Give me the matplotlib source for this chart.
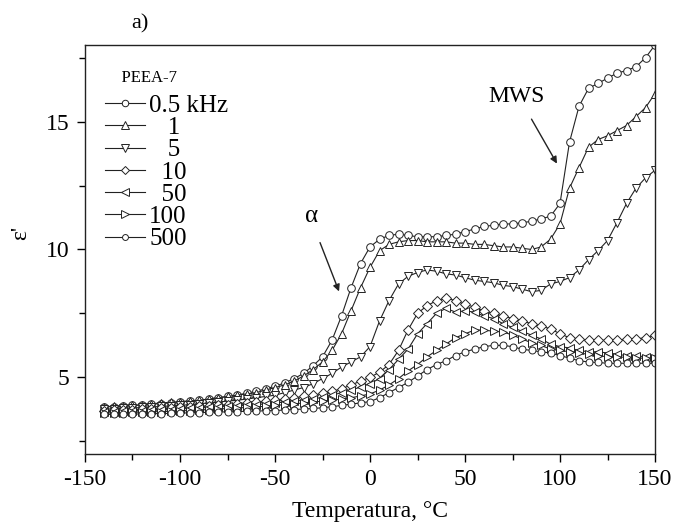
import numpy as np
import matplotlib
matplotlib.use("Agg")
import matplotlib.pyplot as plt
from matplotlib.ticker import MultipleLocator

plt.rcParams['font.family'] = ['Liberation Serif', 'DejaVu Serif']
plt.rcParams['axes.unicode_minus'] = False

temps = list(range(-140, 151, 5))

eps_05k = [3.85, 3.85, 3.87, 3.9, 3.92, 3.95, 3.97, 4.0, 4.03, 4.07, 4.1, 4.15, 4.2, 4.25, 4.3,
           4.38, 4.45, 4.55, 4.65, 4.78, 4.95, 5.15, 5.45, 5.8, 6.45, 7.4, 8.5, 9.45, 10.1, 10.4,
           10.55, 10.6, 10.55, 10.5, 10.5, 10.5, 10.55, 10.6, 10.7, 10.8, 10.9, 10.95, 11.0, 11.0,
           11.05, 11.1, 11.2, 11.3, 11.8, 14.2, 15.6, 16.3, 16.5, 16.7, 16.9, 17.0, 17.15, 17.5, 18.0]
eps_1k = [3.85, 3.87, 3.88, 3.9, 3.93, 3.96, 4.0, 4.02, 4.05, 4.08, 4.1, 4.15, 4.2, 4.25, 4.3,
          4.35, 4.4, 4.5, 4.6, 4.7, 4.85, 5.05, 5.3, 5.6, 6.05, 6.7, 7.6, 8.5, 9.3, 9.95,
          10.2, 10.3, 10.35, 10.35, 10.3, 10.3, 10.3, 10.25, 10.25, 10.2, 10.2, 10.15, 10.1, 10.1,
          10.05, 10.0, 10.1, 10.4, 11.0, 12.4, 13.2, 14.0, 14.3, 14.45, 14.65, 14.85, 15.2, 15.55, 16.1]
eps_5k = [3.75, 3.77, 3.78, 3.8, 3.82, 3.84, 3.86, 3.88, 3.9, 3.93, 3.96, 4.0, 4.03, 4.07, 4.1,
          4.15, 4.2, 4.25, 4.3, 4.4, 4.5, 4.6, 4.75, 4.95, 5.15, 5.4, 5.6, 5.8, 6.2, 7.2,
          8.0, 8.65, 8.95, 9.1, 9.2, 9.15, 9.05, 9.0, 8.9, 8.8, 8.75, 8.7, 8.6, 8.55,
          8.45, 8.35, 8.4, 8.65, 8.75, 8.9, 9.2, 9.6, 9.95, 10.35, 11.05, 11.8, 12.4, 12.8, 13.1]
eps_10k = [3.7, 3.71, 3.72, 3.73, 3.75, 3.76, 3.78, 3.8, 3.82, 3.84, 3.86, 3.88, 3.9, 3.93, 3.96,
           4.0, 4.03, 4.07, 4.1, 4.15, 4.2, 4.25, 4.3, 4.37, 4.45, 4.55, 4.7, 4.85, 5.0, 5.2,
           5.5, 6.05, 6.85, 7.5, 7.8, 8.0, 8.1, 8.0, 7.85, 7.75, 7.6, 7.5, 7.4, 7.3,
           7.2, 7.1, 7.0, 6.9, 6.7, 6.55, 6.5, 6.45, 6.45, 6.45, 6.45, 6.5, 6.5, 6.55, 6.65]
eps_50k = [3.65, 3.66, 3.67, 3.68, 3.7, 3.71, 3.72, 3.74, 3.76, 3.78, 3.8, 3.82, 3.84, 3.86, 3.88,
           3.9, 3.93, 3.96, 4.0, 4.03, 4.07, 4.1, 4.15, 4.22, 4.3, 4.4, 4.5, 4.62, 4.75, 4.95,
           5.3, 5.7, 6.1, 6.7, 7.1, 7.5, 7.7, 7.55, 7.6, 7.55, 7.4, 7.3, 7.1, 6.95,
           6.8, 6.65, 6.5, 6.3, 6.2, 6.15, 6.05, 6.0, 6.0, 5.95, 5.9, 5.85, 5.85, 5.8, 5.8]
eps_100k = [3.6, 3.61, 3.62, 3.63, 3.64, 3.65, 3.66, 3.67, 3.69, 3.7, 3.72, 3.74, 3.76, 3.78, 3.8,
            3.82, 3.84, 3.87, 3.9, 3.93, 3.96, 4.0, 4.03, 4.07, 4.1, 4.15, 4.2, 4.27, 4.35, 4.5,
            4.7, 4.95, 5.25, 5.5, 5.8, 6.05, 6.3, 6.55, 6.7, 6.85, 6.85, 6.8, 6.78, 6.65,
            6.5, 6.35, 6.25, 6.1, 6.05, 6.0, 5.95, 5.9, 5.85, 5.8, 5.8, 5.78, 5.75, 5.75, 5.75]
eps_500k = [3.55, 3.55, 3.56, 3.56, 3.57, 3.58, 3.58, 3.59, 3.6, 3.61, 3.62, 3.63, 3.64, 3.65, 3.66,
            3.67, 3.68, 3.69, 3.7, 3.72, 3.74, 3.76, 3.78, 3.81, 3.85, 3.9, 3.95, 4.0, 4.05, 4.2,
            4.4, 4.6, 4.8, 5.05, 5.3, 5.5, 5.65, 5.85, 6.0, 6.1, 6.2, 6.25, 6.25, 6.2,
            6.1, 6.05, 6.0, 5.95, 5.85, 5.75, 5.65, 5.6, 5.58, 5.55, 5.55, 5.55, 5.55, 5.55, 5.55]

series = [eps_05k, eps_1k, eps_5k, eps_10k, eps_50k, eps_100k, eps_500k]
labels = ["0.5 kHz", "   1", "   5", "  10", "  50", "100", "500"]
markers = ['o', '^', 'v', 'D', '<', '>', 'o']
msizes = [5.5, 6, 6, 4.6, 6, 6, 5]

fig = plt.figure(figsize=(6.79, 5.25), dpi=100)
ax = fig.add_axes([85/679, 1-454/525, 570/679, 409/525])

for y, lab, m, ms in zip(series, labels, markers, msizes):
    ax.plot(temps, y, color='#222222', lw=0.8, marker=m, ms=ms, mfc='white',
            mec='#222222', mew=0.7, label=lab)

ax.set_xlim(-150, 150)
ax.set_ylim(2, 18)
ax.xaxis.set_major_locator(MultipleLocator(50))
ax.xaxis.set_minor_locator(MultipleLocator(25))
ax.yaxis.set_major_locator(MultipleLocator(5))
ax.yaxis.set_minor_locator(MultipleLocator(2.5))
ax.tick_params(which='major', direction='out', length=6, width=1, labelsize=17, pad=5)
ax.tick_params(which='minor', direction='out', length=4, width=1)
for s in ax.spines.values():
    s.set_linewidth(1)
    s.set_color('#222222')

ax.set_xlabel("Temperatura, °C", fontsize=17)
ax.xaxis.set_label_coords(0.5, -0.115)
ax.set_ylabel("ε'", fontsize=17)
ax.yaxis.set_label_coords(-0.095, 0.54)

leg = ax.legend(title="    PEEA-7", title_fontsize=12, fontsize=18, frameon=False,
                loc='upper left', bbox_to_anchor=(0.018, 0.963), borderaxespad=0,
                handlelength=1.6, handletextpad=0.15, labelspacing=-0.01,
                markerscale=0.85, alignment='left')
leg._legend_box.sep = 6

arrow = dict(arrowstyle='-|>', color='#222222', lw=1, mutation_scale=10,
             shrinkA=0, shrinkB=0)
ax.annotate("", xy=(-16.3, 8.36), xytext=(-26.3, 10.27), arrowprops=arrow)
ax.text(-30.5, 11.3, "α", fontsize=18, ha='center', va='center')
ax.annotate("", xy=(98.4, 13.36), xytext=(85, 15.1), arrowprops=arrow)
ax.text(77, 16.0, "MWS", fontsize=17, ha='center', va='center')
fig.text(140/679, 1-24/525, "a)", fontsize=16, ha='center', va='center')

fig.savefig("out.png", dpi=100)
